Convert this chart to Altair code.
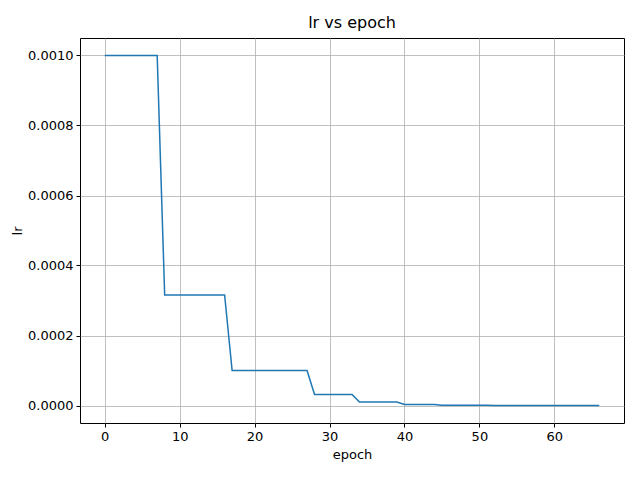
import altair as alt
import pandas as pd

# breakpoints of the step schedule
epochs = [0, 7, 8, 16, 17, 27, 28, 33, 34, 39, 40, 44, 45, 51, 52, 66]
lrs = [0.001, 0.001, 0.000316, 0.000316, 0.0001, 0.0001, 0.0000316, 0.0000316,
       0.00001, 0.00001, 0.00000316, 0.00000316, 0.000001, 0.000001,
       0.000000316, 0.000000316]

df = pd.DataFrame({'epoch': epochs, 'lr': lrs})

chart = alt.Chart(df).mark_line(color='#1f77b4', strokeWidth=1.5).encode(
    alt.X('epoch', scale=alt.Scale(domain=[-3.3, 69.3], nice=False, zero=False),
          axis=alt.Axis(values=[0, 10, 20, 30, 40, 50, 60], title='epoch')),
    alt.Y('lr', scale=alt.Scale(domain=[-0.00005, 0.00105], nice=False),
          axis=alt.Axis(values=[0, 0.0002, 0.0004, 0.0006, 0.0008, 0.001],
                        format='.4f', title='lr')),
).properties(
    title='lr vs epoch',
    width=544,
    height=385,
    autosize=alt.AutoSizeParams(type='none'),
    padding={'left': 72, 'top': 30, 'right': 8, 'bottom': 49},
).configure_view(
    stroke='black', strokeWidth=1
).configure_axis(
    grid=True, gridColor='#b0b0b0', gridWidth=0.8,
    domain=False, tickColor='black', tickSize=4,
    labelFont='DejaVu Sans', labelFontSize=13, labelColor='black',
    titleFont='DejaVu Sans', titleFontSize=13, titleFontWeight='normal',
    titleColor='black', labelPadding=3,
).configure_axisY(titlePadding=3).configure_axisX(titlePadding=5).configure_title(
    font='DejaVu Sans', fontSize=16, fontWeight='normal', offset=7
)

chart.save("out.html", embed_options={"renderer": "svg", "actions": False})
